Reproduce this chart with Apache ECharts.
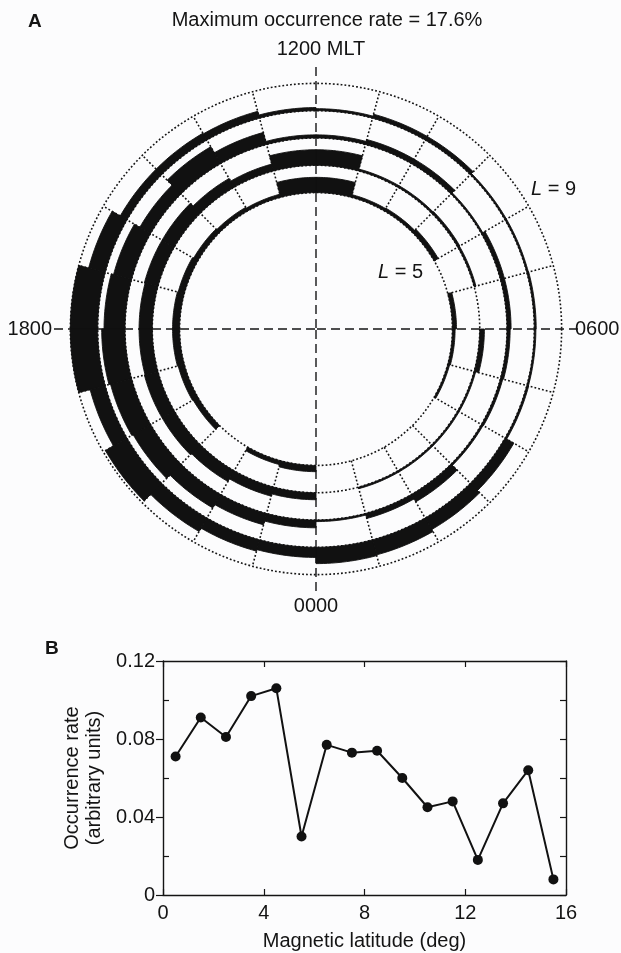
<!DOCTYPE html>
<html>
<head>
<meta charset="utf-8">
<script src="https://cdn.jsdelivr.net/npm/echarts@6/dist/echarts.min.js"></script>
<style>
  html, body { margin: 0; padding: 0; background: #fcfcfd; }
  #chart { width: 621px; height: 953px; }
</style>
</head>
<body>
<div id="chart"></div>
<script>
// MLT sectors, one hour wide, start hour of each
const mltHours = [0,1,2,3,4,5,6,7,8,9,10,11,12,13,14,15,16,17,18,19,20,21,22,23];
// L shells: base of each ring, and the outer (dotted) limit
const shellL = [5, 6, 7, 8];
const outerL = 9;
const maxRate = 17.6;   // % , fills a whole ring

// occurrence rate (%) per MLT hour for each ring
const rateL5 = [0, 0, 0, 0, 1.2, 1.7, 2.6, 0, 3.0, 2.0, 1.7, 9.8, 9.8, 2.0, 2.6, 3.2, 4.0, 4.5, 4.5, 4.0, 3.5, 0, 2.6, 4.0];
const rateL6 = [0, 1.0, 1.0, 1.0, 1.0, 3.0, 0, 1.2, 1.5, 1.2, 1.2, 10, 10, 4.5, 6.5, 9, 9, 8.5, 8.5, 9, 9, 8, 6, 4.5];
const rateL7 = [1.0, 3.3, 5.5, 1.2, 1.5, 2.0, 2.6, 2.6, 1.0, 3.3, 3.3, 2.0, 2.0, 8, 12.5, 8, 12, 13.5, 15, 14, 13, 10, 7.5, 5];
const rateL8 = [10.5, 10, 8.5, 6.5, 1.2, 1.0, 1.2, 1.0, 1.0, 2.6, 2.6, 1.3, 2.0, 4.5, 5, 5, 11, 17.6, 17.6, 10, 16, 10, 7.5, 6.5];

// panel B
const latitude = [0.5, 1.5, 2.5, 3.5, 4.5, 5.5, 6.5, 7.5, 8.5, 9.5, 10.5, 11.5, 12.5, 13.5, 14.5, 15.5];
const occurrence = [0.071, 0.091, 0.081, 0.102, 0.106, 0.030, 0.077, 0.073, 0.074, 0.060, 0.045, 0.048, 0.018, 0.047, 0.064, 0.008];

const font = 'Liberation Sans, Arial, sans-serif';
const ink = '#141414';
const dots = [1.8, 2.1];

const rings = [rateL5, rateL6, rateL7, rateL8];
let barData = [];
rings.forEach((rates, i) => {
  rates.forEach((v, h) => barData.push([shellL[i], mltHours[h], v]));
});

const chart = echarts.init(document.getElementById('chart'));

function txt(text, x, y, align, extra) {
  return {
    type: 'text', x: x, y: y,
    style: Object.assign({ text: text, font: '20px ' + font, fill: ink, textAlign: align, textVerticalAlign: 'middle' }, extra || {})
  };
}
const italicL = { rich: { i: { fontStyle: 'italic', fontSize: 20, fontFamily: font } } };

const option = {
  animation: false,
  backgroundColor: '#fcfcfd',
  textStyle: { fontFamily: font, color: ink },
  polar: { center: [316, 329], radius: 262 },
  radiusAxis: {
    type: 'value', min: 0, max: 9.6,
    axisLine: { show: false }, axisTick: { show: false },
    axisLabel: { show: false }, splitLine: { show: false }
  },
  angleAxis: {
    type: 'value', min: 0, max: 24, interval: 6,
    startAngle: 270, clockwise: false,
    axisLine: { show: false }, axisTick: { show: false }, axisLabel: { show: false },
    splitLine: { show: true, lineStyle: { color: ink, width: 1.4, type: [9, 5] } }
  },
  grid: { left: 163, top: 661, width: 403, height: 234 },
  xAxis: [
    {
      type: 'value', min: 0, max: 16, interval: 4, position: 'bottom',
      name: 'Magnetic latitude (deg)', nameLocation: 'middle', nameGap: 36,
      nameTextStyle: { fontSize: 20, color: ink, fontFamily: font },
      axisLine: { onZero: false, lineStyle: { color: ink, width: 1.4 } },
      axisTick: { inside: true, length: 6, lineStyle: { color: ink, width: 1.2 } },
      axisLabel: { fontSize: 20, color: ink, margin: 8, fontFamily: font },
      splitLine: { show: false }
    },
    {
      type: 'value', min: 0, max: 16, interval: 4, position: 'top',
      axisLine: { onZero: false, lineStyle: { color: ink, width: 1.4 } },
      axisTick: { inside: true, length: 6, lineStyle: { color: ink, width: 1.2 } },
      axisLabel: { show: false }, splitLine: { show: false }
    }
  ],
  yAxis: [
    {
      type: 'value', min: 0, max: 0.12, interval: 0.04, position: 'left',
      name: 'Occurrence rate\n(arbitrary units)', nameLocation: 'middle', nameGap: 54,
      nameTextStyle: { fontSize: 20, color: ink, fontFamily: font, lineHeight: 22 },
      axisLine: { onZero: false, lineStyle: { color: ink, width: 1.4 } },
      axisTick: { inside: false, length: 7, lineStyle: { color: ink, width: 1.2 } },
      axisLabel: {
        fontSize: 20, color: ink, margin: 8, fontFamily: font,
        formatter: v => (v === 0 ? '0' : v.toFixed(2))
      },
      splitLine: { show: false }
    },
    {
      type: 'value', min: 0, max: 0.12, interval: 0.02, position: 'right',
      axisLine: { onZero: false, lineStyle: { color: ink, width: 1.4 } },
      axisTick: { inside: true, length: 6, lineStyle: { color: ink, width: 1.2 } },
      axisLabel: { show: false }, splitLine: { show: false }
    },
    {
      // inward minor ticks on the left side
      type: 'value', min: 0, max: 0.12, interval: 0.04, position: 'left',
      axisLine: { show: false, onZero: false },
      axisTick: { show: false, inside: true },
      minorTick: { show: true, splitNumber: 2, length: 6, lineStyle: { color: ink, width: 1.2 } },
      axisLabel: { show: false }, splitLine: { show: false }
    }
  ],
  graphic: [
    { type: 'text', left: 28, top: 12, style: { text: 'A', font: 'bold 19px ' + font, fill: ink } },
    { type: 'text', left: 45, top: 639, style: { text: 'B', font: 'bold 19px ' + font, fill: ink } },
    txt('Maximum occurrence rate = 17.6%', 327, 20, 'center'),
    txt('1200 MLT', 321, 49, 'center'),
    txt('1800', 52, 329, 'right'),
    txt('0600', 575, 329, 'left'),
    txt('0000', 316, 606, 'center'),
    txt('{i|L} = 9', 531, 189, 'left', italicL),
    txt('{i|L} = 5', 378, 272, 'left', italicL)
  ],
  series: [
    {
      // dotted shell circles
      type: 'custom', coordinateSystem: 'polar', z: 2, silent: true,
      data: shellL.concat([outerL]).map(L => [L, 0]),
      renderItem: function (params, api) {
        const cs = params.coordSys;
        const p = api.coord([api.value(0), 0]);
        const r = Math.hypot(p[0] - cs.cx, p[1] - cs.cy);
        return {
          type: 'circle', shape: { cx: cs.cx, cy: cs.cy, r: r },
          style: { fill: null, stroke: ink, lineWidth: 1.6, lineDash: dots }
        };
      }
    },
    {
      // dotted sector boundaries
      type: 'custom', coordinateSystem: 'polar', z: 2, silent: true,
      data: mltHours.filter(h => h % 6 !== 0).map(h => [shellL[0], h]),
      renderItem: function (params, api) {
        const h = api.value(1);
        const p0 = api.coord([shellL[0], h]);
        const p1 = api.coord([outerL, h]);
        return {
          type: 'line', shape: { x1: p0[0], y1: p0[1], x2: p1[0], y2: p1[1] },
          style: { stroke: ink, lineWidth: 1.6, lineDash: dots }
        };
      }
    },
    {
      // occurrence bars, thickness = rate / max rate of the ring width
      type: 'custom', coordinateSystem: 'polar', z: 3, silent: true,
      data: barData,
      renderItem: function (params, api) {
        const L = api.value(0), h = api.value(1), v = api.value(2);
        if (!(v > 0)) return null;
        const t = v / maxRate;
        const outer = [], inner = [];
        for (let j = 0; j <= 16; j++) {
          const a = h + j / 16;
          outer.push(api.coord([L + t, a]));
          inner.push(api.coord([L, a]));
        }
        return {
          type: 'polygon',
          shape: { points: outer.concat(inner.reverse()) },
          style: { fill: '#111', stroke: '#111', lineWidth: 0.9 }
        };
      }
    },
    {
      type: 'line', xAxisIndex: 0, yAxisIndex: 0,
      data: latitude.map((x, i) => [x, occurrence[i]]),
      symbol: 'circle', symbolSize: 10,
      lineStyle: { color: '#111', width: 2 },
      itemStyle: { color: '#111' }
    }
  ]
};

chart.setOption(option);
</script>
</body>
</html>
